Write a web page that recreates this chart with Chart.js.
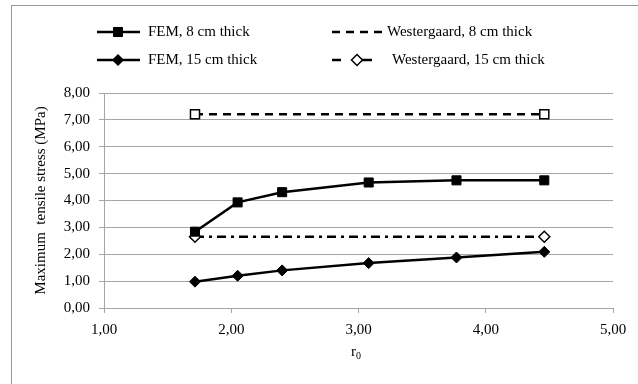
<!DOCTYPE html>
<html>
<head>
<meta charset="utf-8">
<script src="https://cdn.jsdelivr.net/npm/chart.js@4.4.1/dist/chart.umd.min.js"></script>
<style>
  html, body { margin: 0; padding: 0; background: #fff; }
  #wrap { position: relative; width: 638px; height: 384px; }
</style>
</head>
<body>
<div id="wrap"><canvas id="chart" width="638" height="384"></canvas></div>
<script>
// values
const rValues = [1.715, 2.05, 2.40, 3.08, 3.77, 4.46];
const fem8 = [2.84, 3.93, 4.31, 4.67, 4.75, 4.75];
const fem15 = [0.98, 1.20, 1.40, 1.67, 1.88, 2.09];
const westR = [1.715, 4.46];
const west8 = [7.21, 7.21];
const west15 = [2.65, 2.65];
const xTicks = [1, 2, 3, 4, 5];
const yTicks = [0, 1, 2, 3, 4, 5, 6, 7, 8];

const FONT = "'Liberation Serif', 'Times New Roman', serif";
const GRID = "#a6a6a6";

function pts(xs, ys) {
  return xs.map(function (x, i) { return { x: x, y: ys[i] }; });
}
function comma(v) {
  return Number(v).toFixed(2).replace(".", ",");
}

const datasets = [
  {
    label: "FEM, 8 cm thick",
    data: pts(rValues, fem8),
    borderColor: "#000", backgroundColor: "#000", borderWidth: 2.5,
    pointStyle: "rect", pointRadius: 6.4, pointBorderWidth: 1,
    legendPos: [0, 0]
  },
  {
    label: "Westergaard, 8 cm thick",
    data: pts(westR, west8),
    borderColor: "#000", backgroundColor: "#fff", borderWidth: 2.5,
    borderDash: [8, 6],
    pointStyle: "rect", pointRadius: 6.4, pointBorderWidth: 1.5,
    legendPos: [1, 0]
  },
  {
    label: "FEM, 15 cm thick",
    data: pts(rValues, fem15),
    borderColor: "#000", backgroundColor: "#000", borderWidth: 2.5,
    pointStyle: "rectRot", pointRadius: 5.5, pointBorderWidth: 1,
    legendPos: [0, 1]
  },
  {
    label: "Westergaard, 15 cm thick",
    data: pts(westR, west15),
    borderColor: "#000", backgroundColor: "#fff", borderWidth: 2.5,
    borderDash: [9, 5, 3, 5],
    legendDash: [9, 21, 10, 100],
    pointStyle: "rectRot", pointRadius: 5.5, pointBorderWidth: 1.5,
    legendPos: [1, 1]
  }
];

// frame + two-column legend + x title with subscript
const decor = {
  id: "decor",
  beforeDraw(chart) {
    const ctx = chart.ctx;
    ctx.save();
    ctx.fillStyle = "#fff";
    ctx.fillRect(0, 0, chart.width, chart.height);
    ctx.strokeStyle = "#9a9a9a";
    ctx.lineWidth = 1;
    ctx.strokeRect(11.5, 5.5, 700, 500);
    ctx.restore();
  },
  afterDraw(chart) {
    const ctx = chart.ctx;
    const colX = [97, 332];
    const rowY = [32, 60];
    ctx.save();
    chart.data.datasets.forEach(function (ds) {
      const x0 = colX[ds.legendPos[0]];
      const y = rowY[ds.legendPos[1]];
      let x1, mx, tx;
      if (ds.legendPos[0] === 0) { x1 = x0 + 43; mx = x0 + 21; tx = x1 + 8; }
      else if (ds.legendPos[1] === 0) { x1 = x0 + 52; mx = null; tx = x1 + 3; }
      else { x1 = x0 + 41; mx = x0 + 25; tx = x0 + 60; }
      ctx.strokeStyle = ds.borderColor;
      ctx.lineWidth = ds.borderWidth;
      ctx.setLineDash(ds.legendDash || ds.borderDash || []);
      ctx.beginPath();
      ctx.moveTo(x0, y);
      ctx.lineTo(x1, y);
      ctx.stroke();
      ctx.setLineDash([]);
      if (mx !== null) {
        ctx.fillStyle = ds.backgroundColor;
        ctx.lineWidth = ds.pointBorderWidth;
        Chart.helpers.drawPoint(ctx, {
          pointStyle: ds.pointStyle, radius: ds.pointRadius, rotation: 0,
          borderWidth: ds.pointBorderWidth
        }, mx, y);
      }
      ctx.fillStyle = "#000";
      ctx.font = "15px " + FONT;
      ctx.textBaseline = "middle";
      ctx.textAlign = "left";
      ctx.fillText(ds.label, tx, y);
    });
    // x axis title "r0"
    ctx.fillStyle = "#000";
    ctx.textBaseline = "alphabetic";
    ctx.font = "15px " + FONT;
    ctx.fillText("r", 351, 356);
    ctx.font = "10px " + FONT;
    ctx.fillText("0", 356, 359);
    ctx.restore();
  }
};

new Chart(document.getElementById("chart"), {
  type: "line",
  data: { datasets: datasets },
  options: {
    responsive: false,
    animation: false,
    layout: { padding: { left: 12, right: 25, top: 93, bottom: 0 } },
    plugins: { legend: { display: false }, tooltip: { enabled: false } },
    elements: { line: { tension: 0 } },
    scales: {
      x: {
        type: "linear",
        min: 1, max: 5,
        afterFit: function (s) { s.height = 76; },
        afterBuildTicks: function (s) { s.ticks = xTicks.map(function (v) { return { value: v }; }); },
        grid: { drawOnChartArea: false, drawTicks: true, tickLength: 5, color: GRID },
        border: { color: GRID, width: 1 },
        ticks: {
          padding: 8, color: "#000", font: { family: FONT, size: 15 },
          maxRotation: 0, callback: comma
        }
      },
      y: {
        min: 0, max: 8,
        afterFit: function (s) { s.width = 92; },
        afterBuildTicks: function (s) { s.ticks = yTicks.map(function (v) { return { value: v }; }); },
        grid: { color: GRID, tickLength: 5, lineWidth: 1 },
        border: { color: GRID, width: 1 },
        ticks: { padding: 9, color: "#000", font: { family: FONT, size: 15 }, callback: comma },
        title: {
          display: true, text: "Maximum  tensile stress (MPa)", color: "#000",
          font: { family: FONT, size: 15 }, padding: { top: 20, bottom: 0 }
        }
      }
    }
  },
  plugins: [decor]
});
</script>
</body>
</html>
